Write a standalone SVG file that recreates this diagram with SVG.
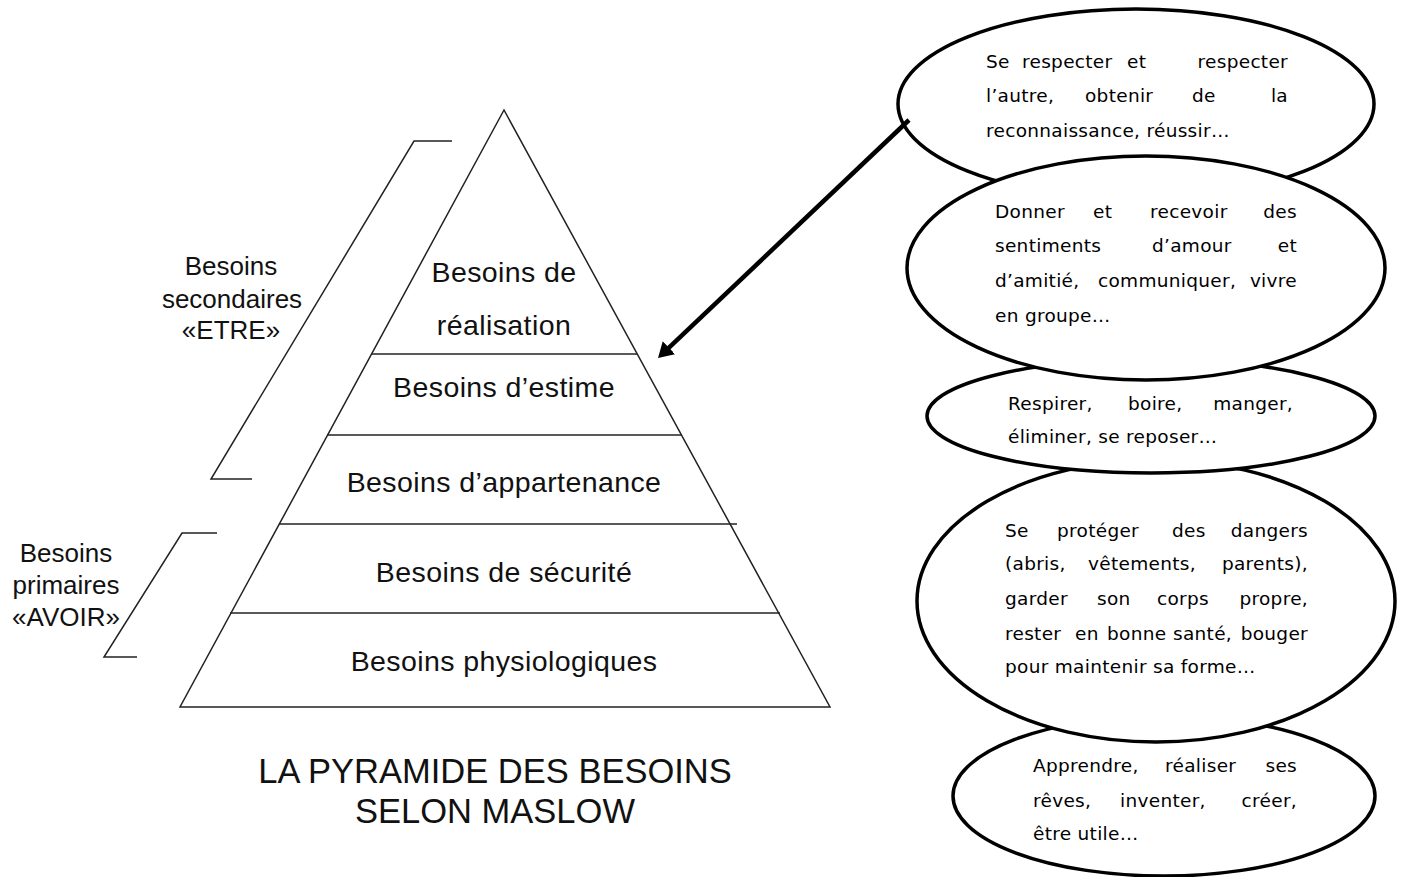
<svg xmlns="http://www.w3.org/2000/svg" width="1402" height="877" viewBox="0 0 1402 877">
<style>
.bg{fill:#fff}
.pl{fill:none;stroke:#222;stroke-width:1.5}
.pt{font-family:"Liberation Sans",Arial,sans-serif;font-size:28.5px;letter-spacing:0.4px;fill:#111;text-anchor:middle}
.lb{font-family:"Liberation Sans",Arial,sans-serif;font-size:26px;fill:#111;text-anchor:middle}
.ti{font-family:"Liberation Sans",Arial,sans-serif;font-size:34.5px;fill:#111;text-anchor:middle}
.el{fill:#fff;stroke:#000;stroke-width:3.5}
.et{font-family:"DejaVu Sans","Noto Sans",sans-serif;font-size:18.5px;letter-spacing:0.3px;fill:#000}
.end{text-anchor:end}
.arrow{stroke:#000;stroke-width:4.5;fill:none}
</style>
<defs>
<marker id="ah" viewBox="0 0 15 18" refX="1" refY="9" markerWidth="15" markerHeight="18" markerUnits="userSpaceOnUse" orient="auto">
<path d="M0,0 L15,9 L0,18 z" fill="#000"/>
</marker>
</defs>
<rect class="bg" x="0" y="0" width="1402" height="877"/>

<g id="pyramid">
<polygon class="pl" points="504,110 180,707 830,707"/>
<line class="pl" x1="371" y1="354" x2="637" y2="354"/>
<line class="pl" x1="327" y1="435" x2="682" y2="435"/>
<line class="pl" x1="279" y1="524" x2="737" y2="524"/>
<line class="pl" x1="230" y1="613" x2="780" y2="613"/>
</g>

<g id="level-realisation"><text class="pt" x="504" y="282">Besoins de</text><text class="pt" x="504" y="335">réalisation</text></g>
<g id="level-estime"><text class="pt" x="504" y="397">Besoins d’estime</text></g>
<g id="level-appartenance"><text class="pt" x="504" y="492">Besoins d’appartenance</text></g>
<g id="level-securite"><text class="pt" x="504" y="582">Besoins de sécurité</text></g>
<g id="level-physio"><text class="pt" x="504" y="671">Besoins physiologiques</text></g>

<g id="bracket-secondaires">
<polyline class="pl" points="452,141 414,141 211,479 252,479"/>
<text class="lb" x="231" y="275">Besoins</text>
<text class="lb" x="232" y="308">secondaires</text>
<text class="lb" x="231" y="339">«ETRE»</text>
</g>
<g id="bracket-primaires">
<polyline class="pl" points="217,533 182,533 104,657 137,657"/>
<text class="lb" x="66" y="562">Besoins</text>
<text class="lb" x="66" y="594">primaires</text>
<text class="lb" x="66" y="626">«AVOIR»</text>
</g>

<g id="title">
<text class="ti" x="495" y="783">LA PYRAMIDE DES BESOINS</text>
<text class="ti" x="495" y="823">SELON MASLOW</text>
</g>

<g id="ellipse-estime">
<ellipse class="el" cx="1136" cy="104" rx="238" ry="95"/>
<text class="et" y="68"><tspan x="986">Se</tspan><tspan x="1022">respecter</tspan><tspan x="1127">et</tspan></text>
<text class="et end" x="1288" y="68">respecter</text>
<text class="et" y="102"><tspan x="986">l’autre,</tspan><tspan x="1085">obtenir</tspan><tspan x="1192">de</tspan></text>
<text class="et end" x="1288" y="102">la</text>
<text class="et" x="986" y="137">reconnaissance, réussir…</text>
</g>

<g id="ellipse-realisation">
<ellipse class="el" cx="1164" cy="796" rx="211" ry="80"/>
<text class="et" y="772"><tspan x="1033">Apprendre,</tspan><tspan x="1165">réaliser</tspan></text>
<text class="et end" x="1297" y="772">ses</text>
<text class="et" y="807"><tspan x="1033">rêves,</tspan><tspan x="1120">inventer,</tspan></text>
<text class="et end" x="1297" y="807">créer,</text>
<text class="et" x="1033" y="840">être utile…</text>
</g>

<g id="ellipse-securite">
<ellipse class="el" cx="1156" cy="601" rx="239" ry="141"/>
<text class="et" y="537"><tspan x="1005">Se</tspan><tspan x="1057">protéger</tspan><tspan x="1172">des</tspan></text>
<text class="et end" x="1308" y="537">dangers</text>
<text class="et" y="570"><tspan x="1005">(abris,</tspan><tspan x="1088">vêtements,</tspan></text>
<text class="et end" x="1308" y="570">parents),</text>
<text class="et" y="605"><tspan x="1005">garder</tspan><tspan x="1097">son</tspan><tspan x="1157">corps</tspan></text>
<text class="et end" x="1308" y="605">propre,</text>
<text class="et" y="640"><tspan x="1005">rester</tspan><tspan x="1075">en</tspan><tspan x="1107">bonne</tspan><tspan x="1173">santé,</tspan></text>
<text class="et end" x="1308" y="640">bouger</text>
<text class="et" x="1005" y="673">pour maintenir sa forme…</text>
</g>

<g id="ellipse-physio">
<ellipse class="el" cx="1151" cy="416" rx="224" ry="57"/>
<text class="et" y="410"><tspan x="1008">Respirer,</tspan><tspan x="1128">boire,</tspan></text>
<text class="et end" x="1293" y="410">manger,</text>
<text class="et" x="1008" y="443">éliminer, se reposer…</text>
</g>

<g id="ellipse-appartenance">
<ellipse class="el" cx="1146" cy="268" rx="239" ry="112"/>
<text class="et" y="218"><tspan x="995">Donner</tspan><tspan x="1093">et</tspan><tspan x="1150">recevoir</tspan></text>
<text class="et end" x="1297" y="218">des</text>
<text class="et" y="252"><tspan x="995">sentiments</tspan><tspan x="1152">d’amour</tspan></text>
<text class="et end" x="1297" y="252">et</text>
<text class="et" y="287"><tspan x="995">d’amitié,</tspan><tspan x="1098">communiquer,</tspan></text>
<text class="et end" x="1297" y="287">vivre</text>
<text class="et" x="995" y="322">en groupe…</text>
</g>

<g id="connectors">
<line class="arrow" x1="909" y1="120" x2="668.2" y2="348.4" marker-end="url(#ah)"/>
</g>
</svg>
